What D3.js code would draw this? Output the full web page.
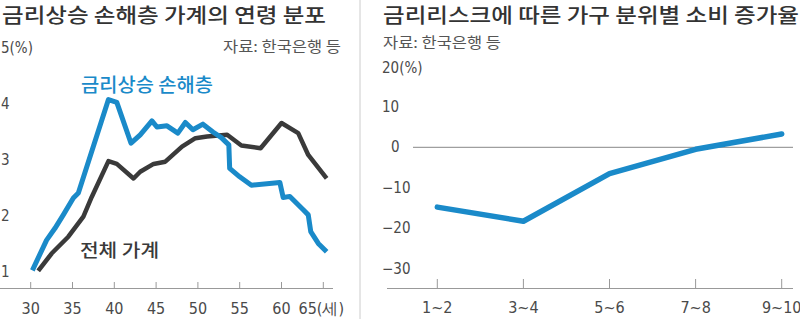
<!DOCTYPE html>
<html>
<head>
<meta charset="utf-8">
<script src="https://d3js.org/d3.v7.min.js"></script>
<style>
  body { margin: 0; background: #fff; }
  text { font-family: "Noto Sans CJK KR", sans-serif; }
  .num { font-family: "Liberation Sans Narrow", "DejaVu Sans Condensed", "Roboto", sans-serif; fill: #4a4a4a; }
</style>
</head>
<body>
<div id="chart"></div>
<script>
  var w = 800, h = 319;

  // left chart: age distribution (%)
  var lossAges   = [30.2, 31.9, 32.9, 33.9, 35.1, 35.7, 39.3, 40.3, 42.0, 43.1, 44.5, 45.1, 46.3, 47.6, 48.5, 49.4, 50.6, 51.8, 52.8, 53.7, 53.8, 55.0, 56.4, 59.8, 60.2, 61.0, 62.6, 63.2, 63.5, 64.4, 65.4];
  var lossValues = [1.03, 1.57, 1.78, 2.02, 2.32, 2.41, 4.08, 4.03, 3.30, 3.45, 3.70, 3.59, 3.61, 3.48, 3.67, 3.54, 3.64, 3.50, 3.40, 3.27, 2.85, 2.70, 2.55, 2.60, 2.33, 2.35, 2.11, 2.02, 1.72, 1.51, 1.36];
  var allAges    = [30.9, 32.5, 34.5, 36.3, 37.3, 39.3, 40.3, 42.3, 43.1, 44.7, 46.1, 48.1, 49.7, 51.1, 53.5, 55.2, 57.5, 60.0, 62.0, 63.2, 65.4];
  var allValues  = [1.02, 1.33, 1.63, 1.99, 2.34, 2.98, 2.93, 2.67, 2.79, 2.93, 2.97, 3.24, 3.39, 3.42, 3.45, 3.26, 3.21, 3.66, 3.48, 3.09, 2.67];
  var ageTicks   = [30, 35, 40, 45, 50, 55, 60, 65];
  var leftYTicks = [1, 2, 3, 4];

  // right chart: consumption growth by quantile (%)
  var quantiles   = ["1~2", "3~4", "5~6", "7~8", "9~10"];
  var growth      = [-14.8, -18.3, -6.5, -0.5, 3.3];
  var rightYTicks = [-30, -20, -10, 10];

  var blue = "#1a8ac9", dark = "#3a3a3a";

  var svg = d3.select("#chart").append("svg").attr("width", w).attr("height", h);

  // titles
  svg.append("text").attr("x", 2).attr("y", 23).attr("font-size", 20).attr("font-weight", 500)
    .attr("fill", "#333").attr("textLength", 324).attr("lengthAdjust", "spacingAndGlyphs")
    .text("금리상승 손해층 가계의 연령 분포");
  svg.append("text").attr("x", 383).attr("y", 23).attr("font-size", 20).attr("font-weight", 500)
    .attr("fill", "#333").attr("textLength", 416).attr("lengthAdjust", "spacingAndGlyphs")
    .text("금리리스크에 따른 가구 분위별 소비 증가율");
  svg.append("text").attr("x", 223).attr("y", 52).attr("font-size", 15).attr("fill", "#555")
    .attr("textLength", 118).attr("lengthAdjust", "spacingAndGlyphs")
    .text("자료: 한국은행 등");
  svg.append("text").attr("x", 383).attr("y", 48).attr("font-size", 15).attr("fill", "#555")
    .attr("textLength", 118).attr("lengthAdjust", "spacingAndGlyphs")
    .text("자료: 한국은행 등");

  // divider
  svg.append("line").attr("x1", 360).attr("x2", 360).attr("y1", 0).attr("y2", h)
    .attr("stroke", "#ccc").attr("stroke-width", 1);

  // ---- left chart
  var x = d3.scaleLinear().domain([30, 65]).range([30.7, 323.3]);
  var y = d3.scaleLinear().domain([1, 5]).range([272, 48]);

  svg.append("line").attr("x1", 0).attr("x2", 333).attr("y1", 288.5).attr("y2", 288.5)
    .attr("stroke", "#999");
  svg.selectAll("line.ltick").data(ageTicks).enter().append("line").attr("class", "ltick")
    .attr("x1", function(d) { return x(d); }).attr("x2", function(d) { return x(d); })
    .attr("y1", 282).attr("y2", 288.5).attr("stroke", "#999");
  svg.selectAll("text.lx").data(ageTicks).enter().append("text").attr("class", "lx num")
    .attr("x", function(d) { return d == 65 ? x(d) - 2 : x(d); })
    .attr("y", 314).attr("font-size", 16).attr("text-anchor", "middle")
    .text(function(d) { return d == 65 ? "65(세)" : d; });
  svg.selectAll("text.ly").data(leftYTicks).enter().append("text").attr("class", "ly num")
    .attr("x", 1).attr("y", function(d) { return y(d) + 5; }).attr("font-size", 15)
    .text(function(d) { return d; });
  svg.append("text").attr("class", "num").attr("x", 1).attr("y", 53).attr("font-size", 15).text("5(%)");

  var line = d3.line().x(function(d) { return x(d[0]); }).y(function(d) { return y(d[1]); });
  svg.append("path").datum(d3.zip(allAges, allValues)).attr("d", line)
    .attr("fill", "none").attr("stroke", dark).attr("stroke-width", 4.5).attr("stroke-linejoin", "round");
  svg.append("path").datum(d3.zip(lossAges, lossValues)).attr("d", line)
    .attr("fill", "none").attr("stroke", blue).attr("stroke-width", 5).attr("stroke-linejoin", "round");

  svg.append("text").attr("x", 81).attr("y", 92).attr("font-size", 19).attr("font-weight", 500)
    .attr("fill", blue).attr("textLength", 132).attr("lengthAdjust", "spacingAndGlyphs").text("금리상승 손해층");
  svg.append("text").attr("x", 80).attr("y", 257).attr("font-size", 18).attr("font-weight", 500)
    .attr("fill", dark).attr("textLength", 79).attr("lengthAdjust", "spacingAndGlyphs").text("전체 가계");

  // ---- right chart
  var x2 = d3.scalePoint().domain(quantiles).range([437.3, 781.7]);
  var y2 = d3.scaleLinear().domain([-30, 20]).range([268.5, 66.5]);

  svg.append("line").attr("x1", 413).attr("x2", 793).attr("y1", y2(0)).attr("y2", y2(0))
    .attr("stroke", "#888");
  svg.append("line").attr("x1", 387).attr("x2", 793).attr("y1", 288.5).attr("y2", 288.5)
    .attr("stroke", "#999");
  svg.selectAll("line.rtick").data(quantiles).enter().append("line").attr("class", "rtick")
    .attr("x1", function(d) { return x2(d); }).attr("x2", function(d) { return x2(d); })
    .attr("y1", 279).attr("y2", 288.5).attr("stroke", "#999");
  svg.selectAll("text.rx").data(quantiles).enter().append("text").attr("class", "rx num")
    .attr("x", function(d) { return x2(d); }).attr("y", 313).attr("font-size", 16)
    .attr("text-anchor", "middle").text(function(d) { return d; });
  svg.selectAll("text.ry").data(rightYTicks).enter().append("text").attr("class", "ry num")
    .attr("x", 382).attr("y", function(d) { return y2(d) + 5; }).attr("font-size", 15)
    .text(function(d) { return d < 0 ? "\u2212" + (-d) : d; });
  svg.append("text").attr("class", "num").attr("x", 391).attr("y", y2(0) + 5).attr("font-size", 15).text("0");
  svg.append("text").attr("class", "num").attr("x", 382).attr("y", y2(20) + 6).attr("font-size", 15).text("20(%)");

  var line2 = d3.line().x(function(d) { return x2(d[0]); }).y(function(d) { return y2(d[1]); });
  svg.append("path").datum(d3.zip(quantiles, growth)).attr("d", line2)
    .attr("fill", "none").attr("stroke", blue).attr("stroke-width", 5.5).attr("stroke-linejoin", "round")
    .attr("stroke-linecap", "round");
</script>
</body>
</html>
